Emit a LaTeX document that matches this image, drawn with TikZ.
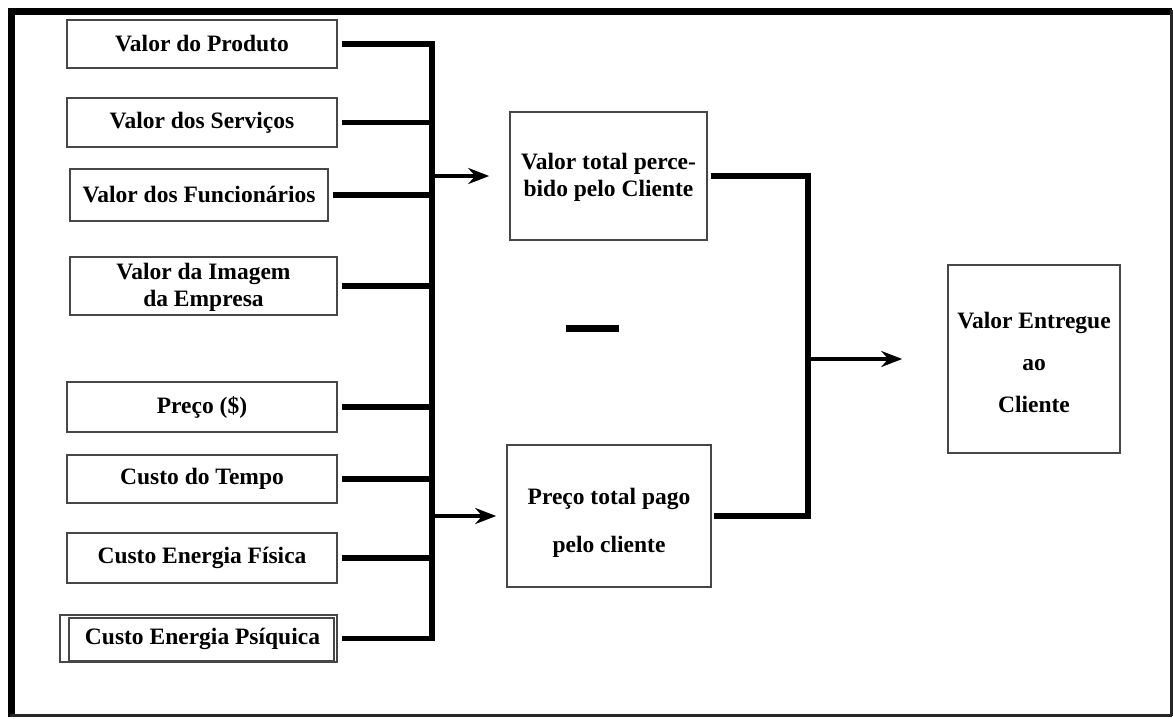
\documentclass[tikz,border=0pt]{standalone}
\usepackage{fontspec}
\setmainfont{Liberation Serif}
\usetikzlibrary{arrows.meta}
\begin{document}
\begin{tikzpicture}[x=1pt,y=-1pt,
  box/.style={draw=black!72,line width=1.6pt,rectangle,inner sep=0pt,align=center,
    font=\bfseries\fontsize{23.5}{27}\selectfont},
  thickline/.style={line width=5.5pt,black},
  arr/.style={line width=3.5pt,black,-{Stealth[length=21pt,width=16pt,inset=7pt]}}]
\useasboundingbox (0,0) rectangle (1173,718);
% frame
\draw[line width=6.5pt] (8,11.5) -- (1172,11.5);
\draw[line width=6.5pt] (11.5,8) -- (11.5,717);
\draw[line width=3pt,black!85] (1171,10) -- (1171,716);
\draw[line width=3pt,black!85] (10,715.5) -- (1172,715.5);
% left boxes
\node[box,minimum width=270pt,minimum height=48pt] (n1) at (202,44) {Valor do Produto};
\node[box,minimum width=270pt,minimum height=49pt] (n2) at (202,122.5) {Valor dos Serviços};
\node[box,minimum width=258pt,minimum height=52pt] (n3) at (199,195) {Valor dos Funcionários};
\node[box,minimum width=267pt,minimum height=58pt] (n4) at (203.5,286) {\rule{0pt}{19pt}Valor da Imagem\\da Empresa};
\node[box,minimum width=270pt,minimum height=50pt] (n5) at (202,407) {Preço (\$)};
\node[box,minimum width=270pt,minimum height=48pt] (n6) at (202,479) {Custo do Tempo};
\node[box,minimum width=270pt,minimum height=50pt] (n7) at (202,558) {Custo Energia Física};
\node[box,minimum width=277pt,minimum height=47pt] (n8) at (198.5,638.5) {\hspace*{8pt}Custo Energia Psíquica};
\draw[draw=black!72,line width=1.6pt] ([xshift=10pt,yshift=-3.5pt]n8.north west) rectangle ([xshift=-4pt,yshift=2.5pt]n8.south east);
% middle boxes
\node[box,minimum width=197pt,minimum height=128pt] (m1) at (608.5,176) {\rule{0pt}{19pt}Valor total perce-\\bido pelo Cliente};
\node[box,minimum width=204pt,minimum height=142pt] (m2) at (609,516) {\rule{0pt}{30pt}Preço total pago\\[21pt]pelo cliente};
% right box
\node[box,minimum width=172pt,minimum height=188pt] (r) at (1034,359) {\rule{0pt}{24pt}Valor Entregue\\[15pt]ao\\[15pt]Cliente};
% bus
\coordinate (bx) at (432,0);
\coordinate (rx) at (808,0);
\draw[thickline] ([xshift=4pt]n1.east) -- (n1.east -| bx) -- (n8.east -| bx) -- ([xshift=4pt]n8.east);
\foreach \n in {n2,n3,n4,n5,n6,n7}{
  \draw[thickline] ([xshift=4pt]\n.east) -- (\n.east -| bx);
}
\draw[arr] (m1.west -| bx) -- ([xshift=-20pt]m1.west);
\draw[arr] (m2.west -| bx) -- ([xshift=-10pt]m2.west);
% right connectors
\draw[thickline] ([xshift=3pt]m1.east) -- (m1.east -| rx) -- (m2.east -| rx) -- ([xshift=2pt]m2.east);
\draw[arr] (r.west -| rx) -- ([xshift=-45pt]r.west);
% minus sign
\fill (566,325) rectangle (619,332);
\end{tikzpicture}
\end{document}
